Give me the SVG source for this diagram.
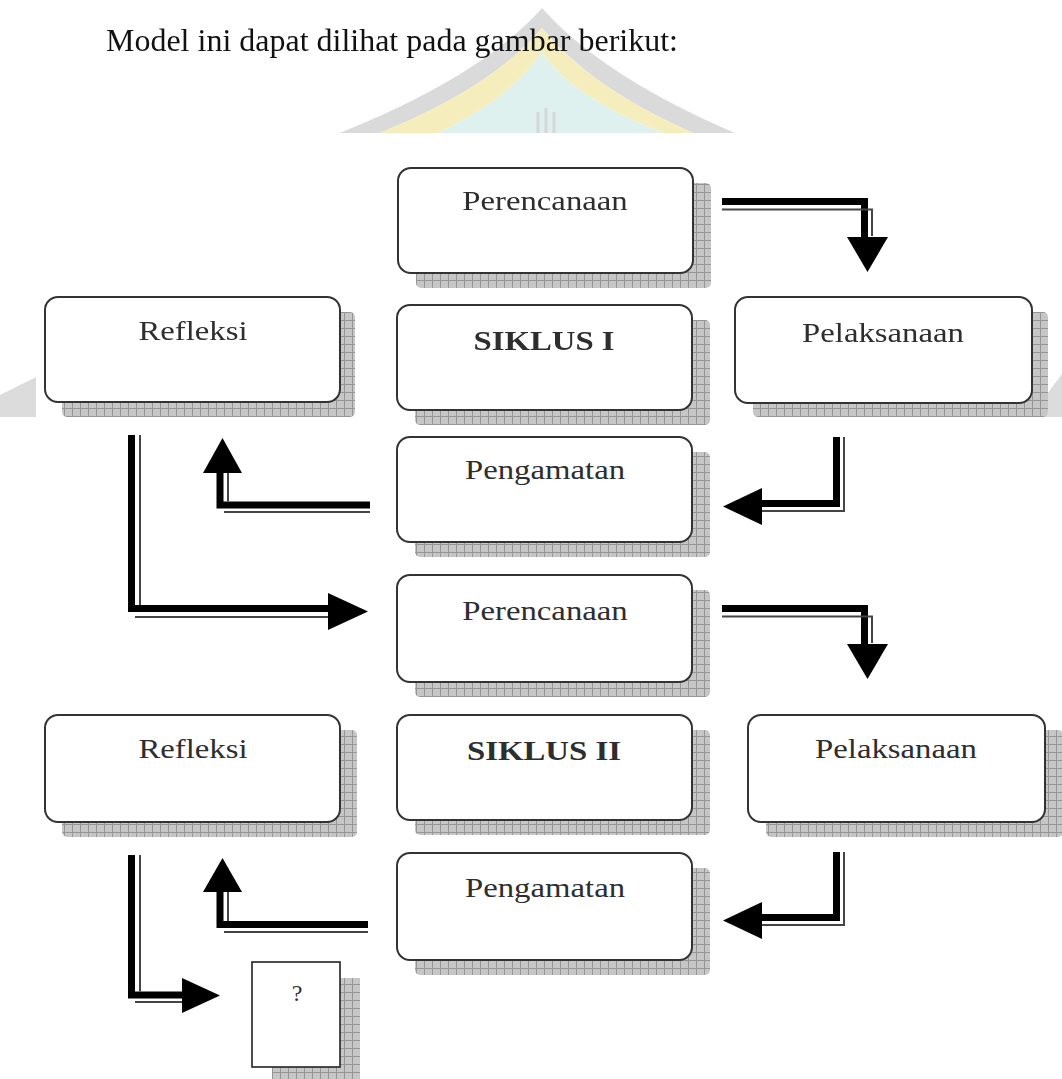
<svg xmlns="http://www.w3.org/2000/svg" width="1062" height="1079" viewBox="0 0 1062 1079">
<style>
.box{fill:#fff;stroke:#333;stroke-width:2}
.sq{fill:#fff;stroke:#222;stroke-width:1.6}
.shadow{fill:url(#grid)}
.lbl{font-family:"Liberation Serif","Times New Roman",serif;font-size:28px;fill:#2e2e2e;text-anchor:middle}
.b{font-weight:bold}
.title{font-family:"Liberation Serif","Times New Roman",serif;font-size:32px;fill:#111}
.thick{fill:none;stroke:#000;stroke-width:7;stroke-linejoin:miter}
.thin{fill:none;stroke:#444;stroke-width:2}
.head{fill:#000}
</style>
<defs>
<pattern id="grid" width="8" height="8" patternUnits="userSpaceOnUse">
<rect width="8" height="8" fill="#c6c6c6"/>
<path d="M0.5,0V8M0,0.5H8" stroke="#969696" stroke-width="1"/>
</pattern>
<clipPath id="wmclip"><rect x="0" y="0" width="1062" height="133"/></clipPath>
</defs>
<rect width="1062" height="1079" fill="#fff"/>
<g id="watermark" opacity="0.85">
<g clip-path="url(#wmclip)">
<path d="M542,8 Q480,78 332,136 L372,136 Q490,90 542,28 Q592,90 700,136 L742,136 Q604,78 542,8 Z" fill="#d4d4d4"/>
<path d="M542,28 Q490,90 372,136 L432,136 Q510,100 542,52 Q574,100 672,136 L700,136 Q592,90 542,28 Z" fill="#f4ebb0"/>
<path d="M542,52 Q510,100 432,136 L672,136 Q574,100 542,52 Z" fill="#d8efeb"/>
<path d="M538,112V136M546,108V136M554,112V136" stroke="#cfcfcf" stroke-width="3"/>
</g>
<path d="M0,395 L36,377 L36,417 L0,417 Z" fill="#d6d6d6"/>
<path d="M1044,398 L1062,374 L1062,417 L1044,417 Z" fill="#d6d6d6"/>
</g>
<text class="title" x="106" y="51" textLength="572" lengthAdjust="spacingAndGlyphs">Model ini dapat dilihat pada gambar berikut:</text>
<g id="perencanaan1">
<rect class="shadow" x="416" y="183" width="295" height="105" rx="5"/>
<rect class="box" x="398" y="168" width="295" height="105" rx="13"/>
<text class="lbl" transform="translate(545,210) scale(1.17,1)">Perencanaan</text>
</g>
<g id="refleksi1">
<rect class="shadow" x="62" y="312" width="293" height="105" rx="5"/>
<rect class="box" x="45" y="297" width="295" height="105" rx="13"/>
<text class="lbl" transform="translate(193,340) scale(1.17,1)">Refleksi</text>
</g>
<g id="siklus1">
<rect class="shadow" x="415" y="320" width="295" height="105" rx="5"/>
<rect class="box" x="397" y="305" width="295" height="105" rx="13"/>
<text class="lbl b" transform="translate(544,350) scale(1.17,1)">SIKLUS I</text>
</g>
<g id="pelaksanaan1">
<rect class="shadow" x="753" y="312" width="295" height="105" rx="5"/>
<rect class="box" x="735" y="297" width="297" height="106" rx="13"/>
<text class="lbl" transform="translate(883,342) scale(1.17,1)">Pelaksanaan</text>
</g>
<g id="pengamatan1">
<rect class="shadow" x="415" y="452" width="295" height="105" rx="5"/>
<rect class="box" x="397" y="437" width="295" height="105" rx="13"/>
<text class="lbl" transform="translate(545,479) scale(1.17,1)">Pengamatan</text>
</g>
<g id="perencanaan2">
<rect class="shadow" x="415" y="590" width="295" height="107" rx="5"/>
<rect class="box" x="397" y="575" width="295" height="107" rx="13"/>
<text class="lbl" transform="translate(545,620) scale(1.17,1)">Perencanaan</text>
</g>
<g id="refleksi2">
<rect class="shadow" x="62" y="730" width="295" height="107" rx="5"/>
<rect class="box" x="45" y="715" width="295" height="107" rx="13"/>
<text class="lbl" transform="translate(193,758) scale(1.17,1)">Refleksi</text>
</g>
<g id="siklus2">
<rect class="shadow" x="415" y="730" width="295" height="105" rx="5"/>
<rect class="box" x="397" y="715" width="295" height="105" rx="13"/>
<text class="lbl b" transform="translate(544,760) scale(1.17,1)">SIKLUS II</text>
</g>
<g id="pelaksanaan2">
<rect class="shadow" x="766" y="730" width="297" height="107" rx="5"/>
<rect class="box" x="748" y="715" width="297" height="107" rx="13"/>
<text class="lbl" transform="translate(896,758) scale(1.17,1)">Pelaksanaan</text>
</g>
<g id="pengamatan2">
<rect class="shadow" x="415" y="868" width="295" height="107" rx="5"/>
<rect class="box" x="397" y="853" width="295" height="107" rx="13"/>
<text class="lbl" transform="translate(545,897) scale(1.17,1)">Pengamatan</text>
</g>
<g id="unknown">
<rect class="shadow" x="272" y="978" width="88" height="105"/>
<rect class="sq" x="252" y="962" width="88" height="105"/>
<text class="lbl" x="297" y="1001" style="font-size:24px">?</text>
</g>
<g id="connectors">
<path class="thick" d="M722,201.5 H864.5 V238"/>
<path class="thin" d="M722,209.5 H872 V236"/>
<polygon class="head" points="847,237 888,237 867.5,272"/>

<path class="thick" d="M836.5,437 V503.5 H762"/>
<path class="thin" d="M844,437 V511 H762"/>
<polygon class="head" points="762,488 762,525 723,506.5"/>

<path class="thick" d="M370,505 H220 V472"/>
<path class="thin" d="M228,472 V501.5 M224,512 H370"/>
<polygon class="head" points="203,473 242,473 222.5,438"/>

<path class="thick" d="M131.5,435 V608.5 H329"/>
<path class="thin" d="M140,435 V605 M135,617 H329"/>
<polygon class="head" points="328,593 328,630 368,611.5"/>

<path class="thick" d="M722,608.5 H864.5 V645"/>
<path class="thin" d="M722,616.5 H872 V643"/>
<polygon class="head" points="847,644 888,644 867.5,679"/>

<path class="thick" d="M836.5,852 V917.5 H762"/>
<path class="thin" d="M844,852 V925 H762"/>
<polygon class="head" points="762,902 762,939 723,920.5"/>

<path class="thick" d="M368,924.5 H220 V892"/>
<path class="thin" d="M228,892 V921 M224,932 H368"/>
<polygon class="head" points="203,892 242,892 222.5,858"/>

<path class="thick" d="M131.5,855 V995 H183"/>
<path class="thin" d="M140,855 V991.5 M135,1002 H183"/>
<polygon class="head" points="182,978 182,1013 220,995.5"/>
</g>
</svg>
